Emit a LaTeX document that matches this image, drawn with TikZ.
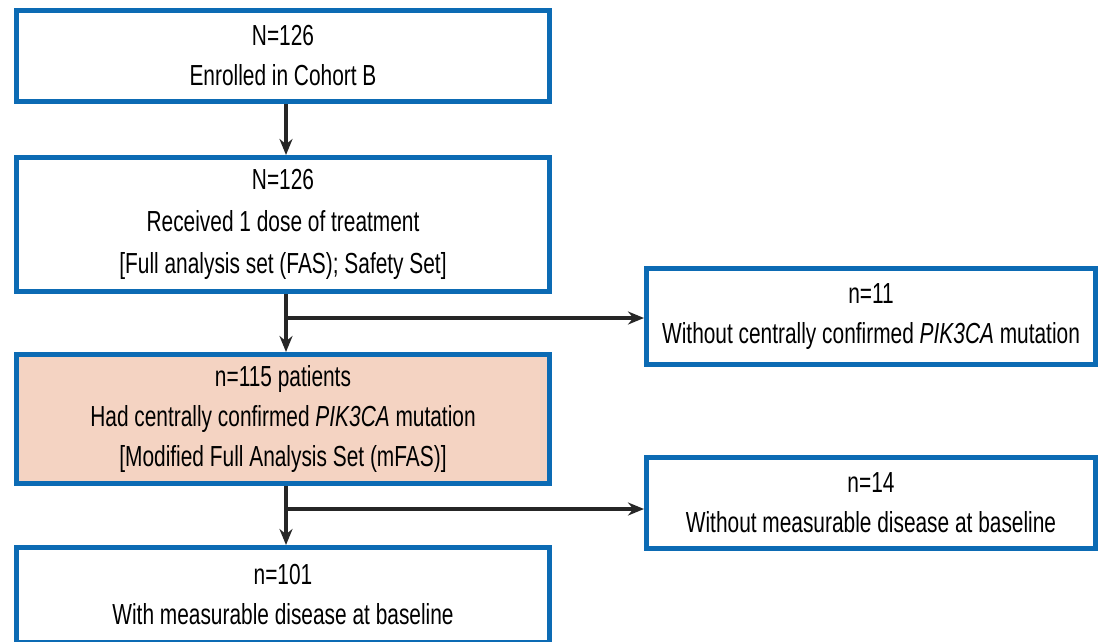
\documentclass[tikz,border=0pt]{standalone}
\usepackage{fontspec}
\setmainfont{Liberation Sans}[FakeStretch=0.72]
\usepackage{tikz}
\usetikzlibrary{positioning,arrows.meta}
\usepackage{xcolor}
\definecolor{boxblue}{RGB}{12,107,180}
\definecolor{boxsalmon}{RGB}{244,211,194}

\begin{document}
\begin{tikzpicture}[x=1pt,y=-1pt,>={Stealth[length=16pt,width=13pt]},
  box/.style={draw=boxblue,line width=5pt,fill=white,align=center,inner sep=0pt,
    font=\fontsize{29}{40}\selectfont},
  flow/.style={->,line width=3.5pt,black!85}]
\useasboundingbox (0,0) rectangle (1098,641);
\node[box,minimum width=533pt,minimum height=91pt] (enr) at (283,56) {N=126\\Enrolled in Cohort B};
\node[box,minimum width=533pt,minimum height=134pt,font=\fontsize{29}{42}\selectfont] (fas) at (283,224.5) {N=126\\Received 1 dose of treatment\\{}[Full analysis set (FAS); Safety Set]};
\node[box,fill=boxsalmon,minimum width=533pt,minimum height=129pt] (mfas) at (283,419) {n=115 patients\\Had centrally confirmed \textit{PIK3CA} mutation\\{}[Modified Full Analysis Set (mFAS)]};
\node[box,minimum width=533pt,minimum height=95pt] (meas) at (283,595) {n=101\\With measurable disease at baseline};
\node[box,minimum width=449pt,minimum height=96pt] (nomut) at (871,316.5) {n=11\\Without centrally confirmed \textit{PIK3CA} mutation};
\node[box,minimum width=449pt,minimum height=91pt] (nomeas) at (871,503) {n=14\\Without measurable disease at baseline};
\coordinate (spine) at (286,0);
\coordinate (split1) at (286,318);
\coordinate (split2) at (286,509);
\draw[flow] (enr.south -| spine) -- (fas.north -| spine);
\draw[flow] (fas.south -| spine) -- (mfas.north -| spine);
\draw[flow] (split1) -- (split1 -| nomut.west);
\draw[flow] (mfas.south -| spine) -- (meas.north -| spine);
\draw[flow] (split2) -- (split2 -| nomeas.west);
\end{tikzpicture}
\end{document}
